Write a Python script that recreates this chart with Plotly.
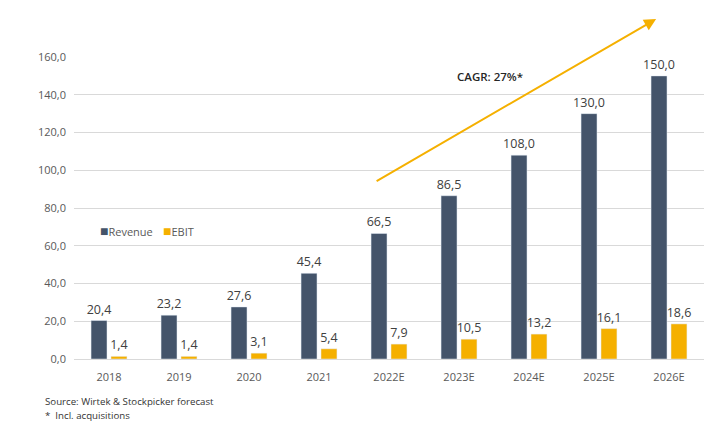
import plotly.graph_objects as go

years = ["2018", "2019", "2020", "2021", "2022E", "2023E", "2024E", "2025E", "2026E"]
revenue = [20.4, 23.2, 27.6, 45.4, 66.5, 86.5, 108.0, 130.0, 150.0]
ebit = [1.4, 1.4, 3.1, 5.4, 7.9, 10.5, 13.2, 16.1, 18.6]
y_ticks = [0, 20, 40, 60, 80, 100, 120, 140, 160]

FONT = "Open Sans"
REV_COLOR = "#44546A"
EBIT_COLOR = "#F5B000"

fig = go.Figure()
fig.add_trace(go.Bar(
    x=years, y=revenue, name="Revenue", marker_color=REV_COLOR,
    texttemplate="%{y:.1f}", textposition="outside", cliponaxis=False, constraintext="none",
    textfont=dict(size=12.5, color="#404040", family=FONT),
))
fig.add_trace(go.Bar(
    x=years, y=ebit, name="EBIT", marker_color=EBIT_COLOR,
    texttemplate="%{y:.1f}", textposition="outside", cliponaxis=False, constraintext="none",
    textfont=dict(size=12.5, color="#404040", family=FONT),
))

fig.update_layout(
    width=727, height=433,
    margin=dict(l=74, r=23, t=57, b=74),
    paper_bgcolor="white", plot_bgcolor="white",
    separators=", ",
    barmode="group", bargap=0.43, bargroupgap=0.2,
    font=dict(family=FONT, size=11, color="#595959"),
    showlegend=False,
    xaxis=dict(showgrid=False, showline=False, ticks="", ticklabelstandoff=10,
               tickfont=dict(size=11, color="#595959")),
    yaxis=dict(range=[0, 160], tickvals=y_ticks, tickformat=".1f", showgrid=True,
               gridcolor="#D9D9D9", gridwidth=1, zeroline=True, zerolinecolor="#D9D9D9",
               zerolinewidth=1, ticks="", ticklen=0, ticklabelstandoff=7,
               tickfont=dict(size=11, color="#595959")),
)

# legend drawn as text with coloured square swatches
for lx, name, col in [(0.038, "Revenue", REV_COLOR), (0.138, "EBIT", EBIT_COLOR)]:
    fig.add_annotation(
        x=lx, y=0.424, xref="paper", yref="paper", xanchor="left", yanchor="middle",
        showarrow=False,
        text=f"<span style='color:{col};font-size:14px'>■</span>{name}",
        font=dict(size=11, color="#595959", family=FONT),
    )

fig.add_annotation(
    x=0.924, y=1.126, xref="paper", yref="paper",
    ax=-281, ay=163, axref="pixel", ayref="pixel",
    showarrow=True, arrowhead=2, arrowsize=1.2, arrowwidth=2, arrowcolor=EBIT_COLOR, text="",
)
fig.add_annotation(
    x=0.716, y=0.967, xref="paper", yref="paper", showarrow=False,
    text="CAGR: 27%*", font=dict(size=11.5, color="#262626", family=FONT, weight=600),
)
fig.add_annotation(
    x=-0.049, y=-0.142, xref="paper", yref="paper", xanchor="left", yanchor="middle",
    showarrow=False, align="left",
    text="Source: Wirtek &amp; Stockpicker forecast", font=dict(size=9.7, color="#333333", family=FONT),
)
fig.add_annotation(
    x=-0.049, y=-0.188, xref="paper", yref="paper", xanchor="left", yanchor="middle",
    showarrow=False, align="left",
    text="*  Incl. acquisitions", font=dict(size=9.7, color="#333333", family=FONT),
)

fig.write_html("out.html")
